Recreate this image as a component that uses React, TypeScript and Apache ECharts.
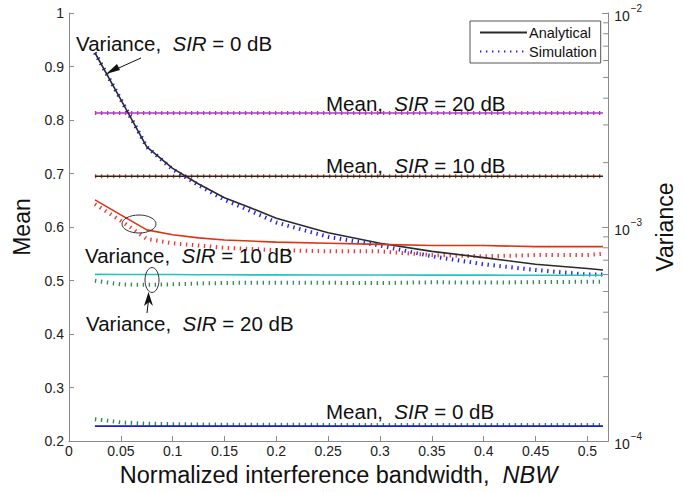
import React, { useEffect, useRef } from "react";
import * as echarts from "echarts";

// x positions of the computed / simulated points (NBW)
const xs = [0.025, 0.05, 0.075, 0.1, 0.125, 0.15, 0.175, 0.2, 0.25, 0.3, 0.35, 0.4, 0.45, 0.5, 0.515];

// Mean (left axis)
const meanAn20 = [0.813, 0.813, 0.813, 0.813, 0.813, 0.813, 0.813, 0.813, 0.813, 0.813, 0.813, 0.813, 0.813, 0.813, 0.813];
const meanSim20 = [0.813, 0.813, 0.813, 0.813, 0.813, 0.813, 0.813, 0.813, 0.813, 0.813, 0.813, 0.813, 0.813, 0.813, 0.813];
const meanAn10 = [0.695, 0.695, 0.695, 0.695, 0.695, 0.695, 0.695, 0.695, 0.695, 0.695, 0.695, 0.695, 0.695, 0.695, 0.695];
const meanSim10 = [0.695, 0.695, 0.695, 0.695, 0.695, 0.695, 0.695, 0.695, 0.695, 0.695, 0.695, 0.695, 0.695, 0.695, 0.695];
const meanAn0 = [0.228, 0.228, 0.228, 0.228, 0.228, 0.228, 0.228, 0.228, 0.228, 0.228, 0.228, 0.228, 0.228, 0.228, 0.228];
const meanSim0 = [0.241, 0.235, 0.2326, 0.2316, 0.231, 0.2307, 0.2305, 0.2304, 0.2303, 0.2303, 0.2302, 0.2302, 0.2302, 0.2301, 0.2301];

// Variance (right axis, log)
const varAn0 = [0.00652, 0.00394, 0.00237, 0.00188, 0.00159, 0.00137, 0.00123, 0.0011, 0.00094, 0.00084, 0.00077, 0.00072, 0.00067, 0.00064, 0.00063];
const varSim0 = [0.00652, 0.00394, 0.00237, 0.00186, 0.00157, 0.00134, 0.00119, 0.00105, 0.0009, 0.00082, 0.00073, 0.00067, 0.00063, 0.0006, 0.0006];
const varAn10 = [0.00134, 0.00114, 0.00097, 0.00092, 0.00089, 0.00087, 0.00086, 0.00085, 0.00084, 0.00083, 0.00082, 0.00082, 0.00081, 0.00081, 0.00081];
const varSim10 = [0.00128, 0.00107, 0.00088, 0.00084, 0.00082, 0.0008, 0.00079, 0.00078, 0.00077, 0.00077, 0.00074, 0.00073, 0.00074, 0.00074, 0.00075];
const varAn20 = [0.000601, 0.0006, 0.0006, 0.0006, 0.000599, 0.000599, 0.000598, 0.000598, 0.000597, 0.000597, 0.000596, 0.000596, 0.000595, 0.000595, 0.000595];
const varSim20 = [0.000561, 0.00054, 0.000537, 0.00054, 0.000545, 0.000548, 0.000549, 0.00055, 0.000549, 0.000547, 0.000552, 0.00055, 0.000553, 0.000555, 0.000555];

// log minor ticks on the right axis
const minorTicks = [2e-4, 3e-4, 4e-4, 5e-4, 6e-4, 7e-4, 8e-4, 9e-4, 2e-3, 3e-3, 4e-3, 5e-3, 6e-3, 7e-3, 8e-3, 9e-3];

const X_MAX = 0.52;
const FONT = "Liberation Sans, Arial, Helvetica, sans-serif";
const AXIS_COLOR = "#8a8a8a";

const pairs = (ys: number[]) => xs.map((x, i) => [x, ys[i]]);

const simStyle = (color: string) => ({
  color,
  width: 4,
  type: [1.4, 4.6],
  cap: "butt",
});

function lineSeries(name: string, ys: number[], yAxisIndex: number, color: string, sim: boolean, z: number) {
  return {
    name,
    type: "line",
    yAxisIndex,
    data: pairs(ys),
    symbol: "none",
    showSymbol: false,
    z,
    itemStyle: { color },
    lineStyle: sim ? simStyle(color) : { color, width: 1.6 },
    emphasis: { disabled: true },
  };
}

const rich = { i: { fontStyle: "italic", fontSize: 20.5, fontFamily: FONT } };

function label(text: string, x: number, y: number) {
  return {
    type: "text",
    x,
    y,
    z: 50,
    style: {
      text,
      fontSize: 20.5,
      fontFamily: FONT,
      fill: "#111",
      verticalAlign: "middle",
      rich,
    },
  };
}

export default function App() {
  const ref = useRef<HTMLDivElement>(null);
  useEffect(() => {
    if (!ref.current) return;
    const chart = echarts.init(ref.current, null, { renderer: "svg" });
    const sup = (v: number) => {
      const e = Math.round(Math.log10(v));
      return "{b|10}{s|" + (e < 0 ? "\u2212" + -e : String(e)) + "}";
    };
    chart.setOption({
      animation: false,
      textStyle: { fontFamily: FONT },
      grid: { left: 69, right: 72, top: 13, bottom: 49, containLabel: false },
      legend: {
        data: ["Analytical", "Simulation"],
        orient: "vertical",
        left: 470,
        top: 21,
        padding: [4, 4, 4, 9],
        itemGap: 4,
        itemWidth: 47,
        itemHeight: 14,
        backgroundColor: "#fff",
        borderColor: "#555",
        borderWidth: 1,
        borderRadius: 0,
        itemStyle: { opacity: 0 },
        textStyle: { fontSize: 14.5, color: "#111", fontFamily: FONT, padding: [0, 0, 0, -3] },
        selectedMode: false,
      },
      xAxis: {
        type: "value",
        min: 0,
        max: X_MAX,
        interval: 0.05,
        axisLine: { lineStyle: { color: AXIS_COLOR, width: 1 } },
        axisTick: { inside: true, length: 5, lineStyle: { color: AXIS_COLOR } },
        axisLabel: { color: "#222", fontSize: 14, margin: 3, showMaxLabel: false, fontFamily: FONT },
        splitLine: { show: false },
        name: "Normalized interference bandwidth,  {i|NBW}",
        nameLocation: "middle",
        nameGap: 21,
        nameTextStyle: {
          fontSize: 23.5,
          color: "#111",
          fontFamily: FONT,
          verticalAlign: "top",
          rich: { i: { fontStyle: "italic", fontSize: 23.5, fontFamily: FONT } },
        },
      },
      yAxis: [
        {
          type: "value",
          position: "left",
          min: 0.2,
          max: 1,
          interval: 0.1,
          axisLine: { show: true, lineStyle: { color: AXIS_COLOR } },
          axisTick: { show: true, inside: true, length: 5, lineStyle: { color: AXIS_COLOR } },
          axisLabel: { color: "#222", fontSize: 14, margin: 5, fontFamily: FONT },
          splitLine: { show: false },
          name: "Mean",
          nameLocation: "middle",
          nameGap: 30,
          nameRotate: 90,
          nameTextStyle: { fontSize: 23, color: "#111", fontFamily: FONT },
        },
        {
          type: "log",
          logBase: 10,
          position: "right",
          min: 1e-4,
          max: 1e-2,
          axisLine: { show: true, lineStyle: { color: AXIS_COLOR } },
          axisTick: { show: true, inside: true, length: 6, lineStyle: { color: AXIS_COLOR } },
          axisLabel: {
            color: "#222",
            margin: 6,
            fontFamily: FONT,
            formatter: sup,
            rich: {
              b: { fontSize: 14, fontFamily: FONT, color: "#222", padding: [6, 0, 0, 0] },
              s: { fontSize: 10, fontFamily: FONT, color: "#222", padding: [0, 0, 9, 1] },
            },
          },
          splitLine: { show: false },
          minorTick: { show: false },
          name: "Variance",
          nameLocation: "middle",
          nameGap: 44,
          nameRotate: 90,
          nameTextStyle: { fontSize: 23, color: "#111", fontFamily: FONT },
        },
      ],
      series: [
        lineSeries("Sim mean 20", meanSim20, 0, "#e5352e", true, 2),
        lineSeries("An mean 20", meanAn20, 0, "#a63bd4", false, 3),
        lineSeries("Sim mean 10", meanSim10, 0, "#e5352e", true, 2),
        lineSeries("An mean 10", meanAn10, 0, "#1e2e1e", false, 3),
        lineSeries("Sim mean 0", meanSim0, 0, "#2f8a57", true, 2),
        lineSeries("An mean 0", meanAn0, 0, "#1818e0", false, 3),
        lineSeries("Simulation", varSim0, 1, "#2323ee", true, 2),
        lineSeries("Analytical", varAn0, 1, "#2a2a2a", false, 3),
        lineSeries("Sim var 10", varSim10, 1, "#f03a3a", true, 2),
        lineSeries("An var 10", varAn10, 1, "#dd3412", false, 3),
        lineSeries("Sim var 20", varSim20, 1, "#3a8a5c", true, 2),
        lineSeries("An var 20", varAn20, 1, "#24c2c2", false, 3),
        {
          name: "minor ticks",
          type: "custom",
          yAxisIndex: 1,
          silent: true,
          clip: false,
          data: minorTicks.map((v) => [X_MAX, v]),
          renderItem: (_p: any, api: any) => {
            const p = api.coord([api.value(0), api.value(1)]);
            return {
              type: "line",
              shape: { x1: p[0], y1: p[1], x2: p[0] - 5, y2: p[1] },
              style: { stroke: AXIS_COLOR, lineWidth: 1 },
            };
          },
        },
      ],
      graphic: [
        label("Variance,  {i|SIR} = 0 dB", 76, 43),
        label("Mean,  {i|SIR} = 20 dB", 326, 103),
        label("Mean,  {i|SIR} = 10 dB", 326, 165),
        label("Variance,  {i|SIR} = 10 dB", 85, 255),
        label("Variance,  {i|SIR} = 20 dB", 86, 323),
        label("Mean,  {i|SIR} = 0 dB", 326, 411),
        // arrow to Variance SIR=0 curve
        { type: "line", z: 50, shape: { x1: 141, y1: 58, x2: 112, y2: 71 }, style: { stroke: "#111", lineWidth: 1 } },
        {
          type: "polygon",
          z: 50,
          shape: { points: [[106, 74], [117, 64], [120, 70]] },
          style: { fill: "#111" },
        },
        // arrow to Variance SIR=20 curve
        { type: "line", z: 50, shape: { x1: 147, y1: 313, x2: 148.5, y2: 300 }, style: { stroke: "#111", lineWidth: 1 } },
        {
          type: "polygon",
          z: 50,
          shape: { points: [[148.5, 292], [144, 306], [149, 302], [153, 306]] },
          style: { fill: "#111" },
        },
        // ellipses
        { type: "ellipse", z: 50, shape: { cx: 139, cy: 224, rx: 17, ry: 9 }, style: { fill: "none", stroke: "#333", lineWidth: 1 } },
        { type: "ellipse", z: 50, shape: { cx: 152, cy: 280, rx: 7, ry: 12.5 }, style: { fill: "none", stroke: "#333", lineWidth: 1 } },
      ],
    });
    return () => chart.dispose();
  }, []);
  return <div ref={ref} style={{ width: 684, height: 492, position: "absolute", left: 0, top: 0 }} />;
}
